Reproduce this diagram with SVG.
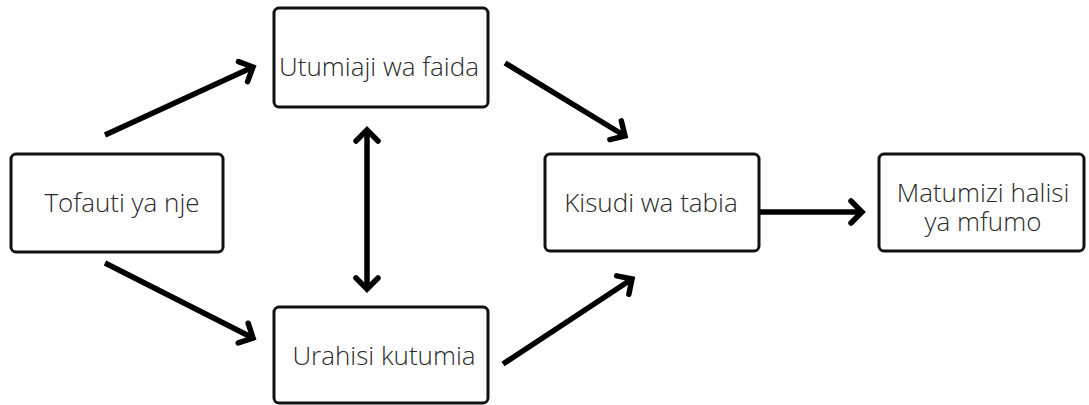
<svg xmlns="http://www.w3.org/2000/svg" width="1089" height="405" viewBox="0 0 1089 405">
<style>
.box{fill:#fff;stroke:#111;stroke-width:3}
.lbl{font-family:"Open Sans",sans-serif;font-weight:300;font-size:26px;fill:#2a2a2a;text-anchor:middle}
.con{stroke:#000;stroke-width:5.5;fill:none}
</style>
<defs>
<marker id="ah" markerUnits="userSpaceOnUse" viewBox="-16 -16 32 32" markerWidth="32" markerHeight="32" refX="0" refY="0" orient="auto-start-reverse">
<path d="M-11,-11 L0,0 L-11,11" fill="none" stroke="#000" stroke-width="5.5" stroke-linecap="round" stroke-linejoin="miter"/>
</marker>
</defs>
<rect width="1089" height="405" fill="#fff"/>
<g id="connectors">
<line class="con" x1="105" y1="135" x2="253" y2="67" marker-end="url(#ah)"/>
<line class="con" x1="105" y1="263" x2="253" y2="338" marker-end="url(#ah)"/>
<line class="con" x1="505" y1="63" x2="625" y2="136" marker-end="url(#ah)"/>
<line class="con" x1="503" y1="364" x2="632" y2="279" marker-end="url(#ah)"/>
<line class="con" x1="760" y1="212" x2="862" y2="212" marker-end="url(#ah)"/>
<line class="con" x1="367" y1="130" x2="367" y2="289" marker-start="url(#ah)" marker-end="url(#ah)"/>
</g>
<g id="n1"><rect class="box" x="11" y="154" width="212" height="98" rx="5"/><text class="lbl" x="122" y="212">Tofauti ya nje</text></g>
<g id="n2"><rect class="box" x="274" y="8" width="214" height="99" rx="5"/><text class="lbl" x="379" y="76">Utumiaji wa faida</text></g>
<g id="n3"><rect class="box" x="274" y="307" width="214" height="96" rx="5"/><text class="lbl" x="384" y="365">Urahisi kutumia</text></g>
<g id="n4"><rect class="box" x="545" y="154" width="214" height="97" rx="5"/><text class="lbl" x="651" y="212">Kisudi wa tabia</text></g>
<g id="n5"><rect class="box" x="879" y="154" width="205" height="97" rx="5"/><text class="lbl" x="983" y="202"><tspan x="983" y="202">Matumizi halisi</tspan><tspan x="983" y="231">ya mfumo</tspan></text></g>
</svg>
